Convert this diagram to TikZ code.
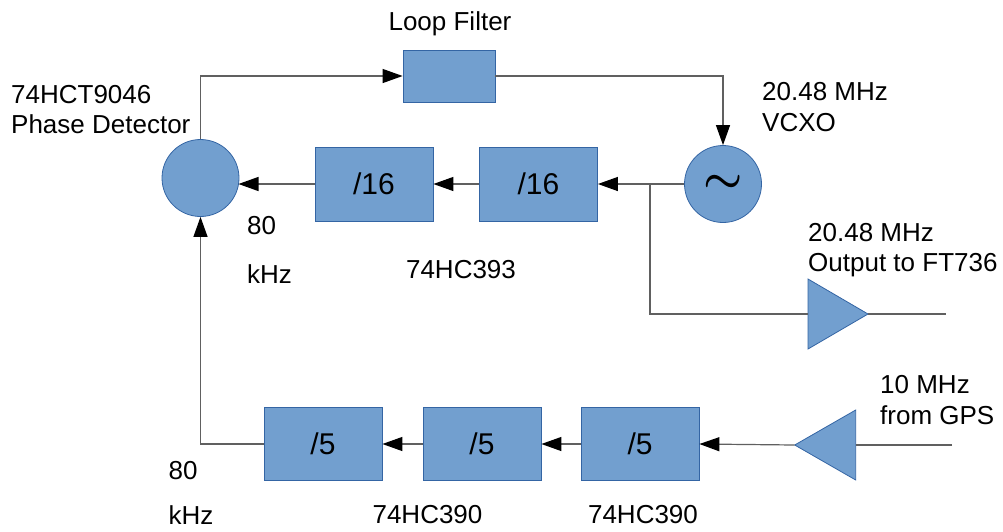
\documentclass[tikz,border=0pt]{standalone}
\usepackage{fontspec}
\setmainfont{Liberation Sans}
\usetikzlibrary{arrows.meta}
\definecolor{blockfill}{HTML}{729FCF}
\definecolor{blockline}{HTML}{3465A4}
\definecolor{wire}{HTML}{606060}
\tikzset{
  blk/.style={draw=blockline, fill=blockfill, line width=0.8pt, inner sep=0pt},
  divbox/.style={blk, rectangle, minimum width=118pt, minimum height=74pt, font=\fontsize{30}{36}\selectfont},
  rnd/.style={blk, circle, minimum size=77pt},
  lbl/.style={font=\fontsize{26}{31}\selectfont, inner sep=0pt, anchor=base west},
  lblc/.style={font=\fontsize{26}{31}\selectfont, inner sep=0pt, anchor=base},
  wireln/.style={draw=wire, line width=1.2pt},
  arr/.style={wireln, -{Triangle[length=20pt,width=14pt,color=black]}},
}
\begin{document}
\begin{tikzpicture}[x=1pt,y=-1pt]
\useasboundingbox (0,0) rectangle (1003,531);
% blocks
\node[rnd] (pd) at (200.5,178) {};
\node[rnd] (vcxo) at (723,184) {\scalebox{4.4}{\boldmath$\sim$}};
\node[blk, minimum width=92pt, minimum height=52pt] (lf) at (449,76) {};
\node[divbox] (d16a) at (374,184) {/16};
\node[divbox] (d16b) at (538.5,184) {/16};
\node[divbox, minimum height=73pt] (d5a) at (323,444) {/5};
\node[divbox, minimum height=73pt] (d5b) at (482,444) {/5};
\node[divbox, minimum height=73pt] (d5c) at (640,444) {/5};
% amplifiers
\coordinate (ampoin) at (808,314);
\coordinate (ampoout) at (868,314);
\filldraw[blk] (808,279) -- (ampoout) -- (808,349) -- cycle;
\coordinate (ampgin) at (855.7,445);
\coordinate (ampgout) at (794.7,445);
\filldraw[blk] (855.7,410) -- (855.7,480) -- (ampgout) -- cycle;
\coordinate (outend) at (946,314);
\coordinate (gpsend) at (952,445);
\coordinate (br) at (650,184);
\coordinate (pdin) at (238.5,184);
% connectors
\draw[arr] (pd.north) |- (lf.west);
\draw[arr] (lf.east) -| (vcxo.north);
\draw[arr] (vcxo.west) -- (d16b.east);
\draw[arr] (d16b.west) -- (d16a.east);
\draw[arr] (d16a.west) -- (pdin);
\draw[wireln] (br) |- (ampoin);
\draw[wireln] (ampoout) -- (outend);
\draw[wireln] (gpsend) -- (ampgin);
\draw[arr] (ampgout) -- (d5c.east);
\draw[arr] (d5c.west) -- (d5b.east);
\draw[arr] (d5b.west) -- (d5a.east);
\draw[arr] (d5a.west) -| (pd.south);
% labels
\node[lblc] (tlf) at (450,30.7) {Loop Filter};
\node[lbl] (tpd1) at (11,103) {74HCT9046};
\node[lbl] (tpd2) at (11,133) {Phase Detector};
\node[lbl] (tvc1) at (762,100.7) {20.48 MHz};
\node[lbl] (tvc2) at (762,131.7) {VCXO};
\node[lbl] (tout1) at (808,241.7) {20.48 MHz};
\node[lbl] (tout2) at (808,271.7) {Output to FT736};
\node[lbl] (t80a) at (247,234) {80};
\node[lbl] (tkhza) at (247,283) {kHz};
\node[lblc] (t393) at (461,278) {74HC393};
\node[lbl] (tgps1) at (880,393) {10 MHz};
\node[lbl] (tgps2) at (880,424) {from GPS};
\node[lbl] (t80b) at (168.5,479) {80};
\node[lbl] (tkhzb) at (168.5,524) {kHz};
\node[lblc] (t390a) at (427.5,523) {74HC390};
\node[lblc] (t390b) at (643,523) {74HC390};
\end{tikzpicture}
\end{document}
